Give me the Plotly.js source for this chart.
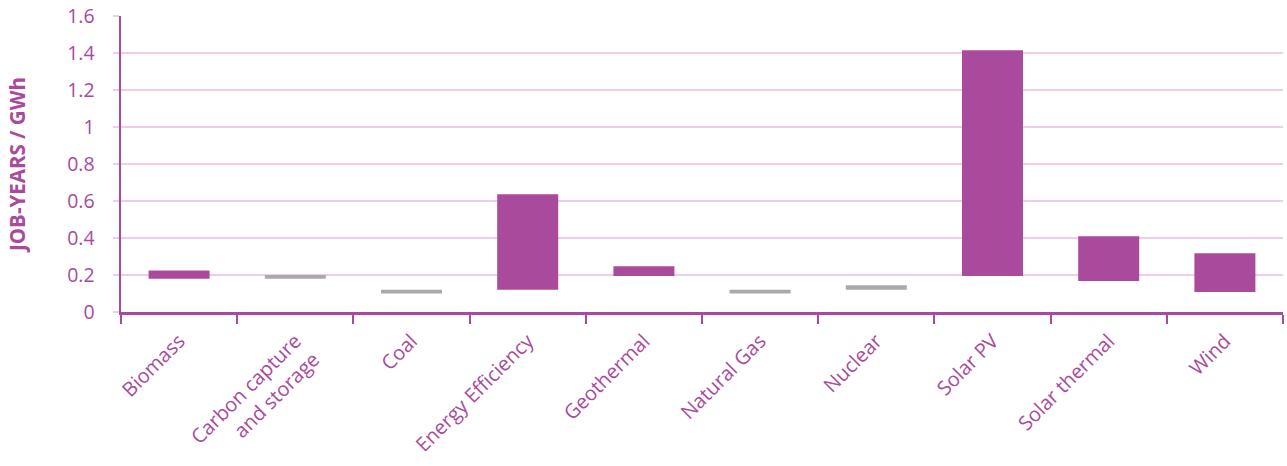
<!DOCTYPE html>
<html>
<head>
<meta charset="utf-8">
<script src="https://cdn.plot.ly/plotly-3.0.1.min.js"></script>
<style>html,body{margin:0;padding:0;background:#fff;}#chart{width:1287px;height:466px;}</style>
</head>
<body>
<div id="chart"></div>
<script>
const categories = ["Biomass", "Carbon capture<br>and storage", "Coal", "Energy Efficiency", "Geothermal", "Natural Gas", "Nuclear", "Solar PV", "Solar thermal", "Wind"];
const minValues = [0.18, 0.18, 0.10, 0.12, 0.195, 0.10, 0.12, 0.195, 0.168, 0.108];
const maxValues = [0.225, 0.20, 0.12, 0.636, 0.247, 0.12, 0.145, 1.415, 0.409, 0.317];
const isFossil = [false, true, true, false, false, true, true, false, false, false];
const yTickValues = [0, 0.2, 0.4, 0.6, 0.8, 1, 1.2, 1.4, 1.6];
const yTickLabels = ["0", "0.2", "0.4", "0.6", "0.8", "1", "1.2", "1.4", "1.6"];

const purple = "#AA4A9C";
const gray = "#A9A8AC";
const grid = "#EDCDE8";

const trace = {
  type: "bar",
  x: categories,
  y: maxValues.map((v, i) => v - minValues[i]),
  base: minValues,
  marker: { color: isFossil.map(f => f ? gray : purple) },
  width: 0.525,
  hoverinfo: "skip"
};

const layout = {
  width: 1287, height: 466,
  margin: { l: 121, r: 4, t: 16, b: 154 },
  paper_bgcolor: "#fff", plot_bgcolor: "#fff",
  showlegend: false,
  font: { family: "'Open Sans', Lato, sans-serif", color: purple },
  xaxis: {
    type: "category",
    tickson: "boundaries",
    ticks: "outside", ticklen: 9, tickwidth: 2, tickcolor: purple,
    showline: true, linecolor: purple, linewidth: 2.5,
    showgrid: false,
    tickangle: -45,
    ticklabelstandoff: 7,
    tickfont: { size: 20, color: purple },
    automargin: false
  },
  yaxis: {
    range: [0, 1.6],
    tickvals: yTickValues, ticktext: yTickLabels,
    ticks: "outside", ticklen: 6, tickwidth: 1.5, tickcolor: grid,
    showline: true, linecolor: purple, linewidth: 2.5,
    showgrid: true, gridcolor: grid, gridwidth: 1.5,
    zeroline: false,
    ticklabelstandoff: 14,
    tickfont: { size: 19.5, color: purple },
    title: { text: "<b>JOB-YEARS / GWh</b>", font: { size: 20.5, color: purple }, standoff: 36 },
    automargin: false
  },
  bargap: 0.475
};

Plotly.newPlot("chart", [trace], layout, { displayModeBar: false, staticPlot: true });
</script>
</body>
</html>
